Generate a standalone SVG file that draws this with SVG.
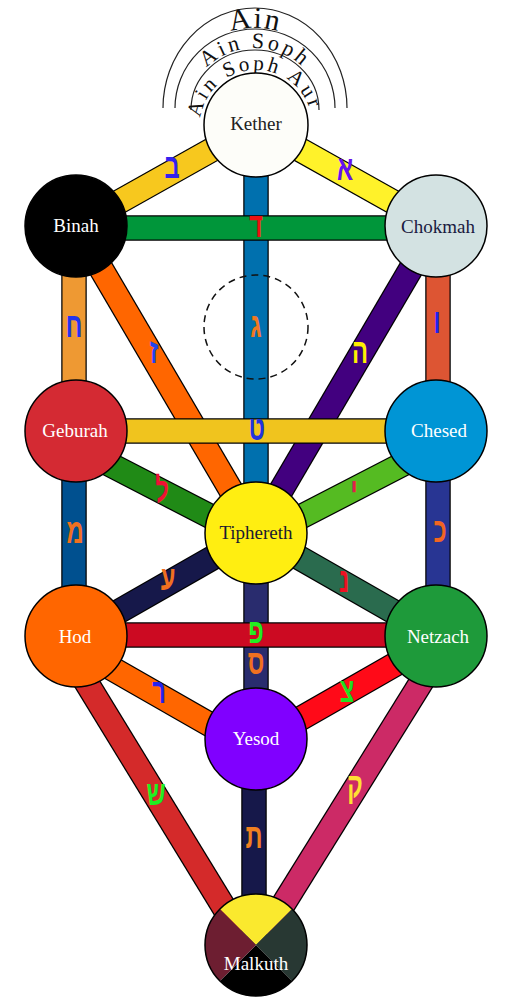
<svg xmlns="http://www.w3.org/2000/svg" width="513" height="1000" viewBox="0 0 513 1000">
<style>
.o{stroke:#000;stroke-width:25.5;fill:none}
.b{stroke-width:23;fill:none}
.n{stroke:#000;stroke-width:1.5}
.lbl{font-family:"Liberation Serif","DejaVu Serif",serif;font-size:19px;text-anchor:middle}
.heb{font-family:"Liberation Sans","DejaVu Sans",sans-serif;font-size:25px;font-weight:bold;text-anchor:middle}
.arc{fill:none;stroke:#222;stroke-width:1.2}
.ain{font-family:"Liberation Serif","DejaVu Serif",serif;fill:#111}
</style>
<defs>
<path id="pAin" d="M173,108 A82,80 0 0,1 337,108"/>
<path id="pSoph" d="M189,110 A66,62 0 0,1 321,110"/>
<path id="pAur" d="M200,125 A56,55 0 0,1 312,125"/>
</defs>
<g id="veils">
<path class="arc" d="M163,108 A92,100 0 0,1 347,108"/>
<path class="arc" d="M175,108 A80,79 0 0,1 335,108"/>
<path class="arc" d="M191,110 A64,60 0 0,1 319,110"/>
<text class="ain" font-size="30" letter-spacing="1.5"><textPath href="#pAin" startOffset="50%" text-anchor="middle">Ain</textPath></text>
<text class="ain" font-size="22" letter-spacing="3"><textPath href="#pSoph" startOffset="50%" text-anchor="middle">Ain Soph</textPath></text>
<text class="ain" font-size="21" letter-spacing="3"><textPath href="#pAur" startOffset="48%" text-anchor="middle">Ain Soph Aur</textPath></text>
</g>
<g id="connectors">
<line class="o" x1="256" y1="125" x2="256" y2="533"/><line class="b" stroke="#0070AE" x1="256" y1="125" x2="256" y2="533"/>
<line class="o" x1="256" y1="125" x2="76" y2="226"/><line class="b" stroke="#F7C81E" x1="256" y1="125" x2="76" y2="226"/>
<line class="o" x1="256" y1="125" x2="436" y2="226"/><line class="b" stroke="#FFF22A" x1="256" y1="125" x2="436" y2="226"/>
<line class="o" x1="76" y1="226" x2="256" y2="533"/><line class="b" stroke="#FF6600" x1="76" y1="226" x2="256" y2="533"/>
<line class="o" x1="436" y1="226" x2="256" y2="533"/><line class="b" stroke="#42007F" x1="436" y1="226" x2="256" y2="533"/>
<line class="o" x1="74" y1="226" x2="74" y2="431"/><line class="b" stroke="#EE9933" x1="74" y1="226" x2="74" y2="431"/>
<line class="o" x1="438" y1="226" x2="438" y2="431"/><line class="b" stroke="#DD5533" x1="438" y1="226" x2="438" y2="431"/>
<line class="o" x1="76" y1="228" x2="436" y2="228"/><line class="b" stroke="#00963A" x1="76" y1="228" x2="436" y2="228"/>
<line class="o" x1="76" y1="431" x2="436" y2="431"/><line class="b" stroke="#F0C41E" x1="76" y1="431" x2="436" y2="431"/>
<line class="o" x1="76" y1="447" x2="256" y2="540"/><line class="b" stroke="#208A16" x1="76" y1="447" x2="256" y2="540"/>
<line class="o" x1="436" y1="447" x2="256" y2="540"/><line class="b" stroke="#55BB22" x1="436" y1="447" x2="256" y2="540"/>
<line class="o" x1="74" y1="431" x2="74" y2="636"/><line class="b" stroke="#00508F" x1="74" y1="431" x2="74" y2="636"/>
<line class="o" x1="438" y1="431" x2="438" y2="636"/><line class="b" stroke="#283593" x1="438" y1="431" x2="438" y2="636"/>
<line class="o" x1="256" y1="533" x2="76" y2="636"/><line class="b" stroke="#16184A" x1="256" y1="533" x2="76" y2="636"/>
<line class="o" x1="256" y1="533" x2="436" y2="636"/><line class="b" stroke="#2A6B4E" x1="256" y1="533" x2="436" y2="636"/>
<line class="o" x1="256" y1="533" x2="256" y2="739"/><line class="b" stroke="#292C6E" x1="256" y1="533" x2="256" y2="739"/>
<line class="o" x1="76" y1="635" x2="436" y2="635"/><line class="b" stroke="#CC0A22" x1="76" y1="635" x2="436" y2="635"/>
<line class="o" x1="76" y1="648" x2="256" y2="751"/><line class="b" stroke="#FF6600" x1="76" y1="648" x2="256" y2="751"/>
<line class="o" x1="436" y1="641" x2="256" y2="744"/><line class="b" stroke="#FF0A18" x1="436" y1="641" x2="256" y2="744"/>
<line class="o" x1="58" y1="636" x2="247" y2="945"/><line class="b" stroke="#D42A2A" x1="58" y1="636" x2="247" y2="945"/>
<line class="o" x1="450" y1="636" x2="258" y2="945"/><line class="b" stroke="#CC2A66" x1="450" y1="636" x2="258" y2="945"/>
<line class="o" x1="254" y1="739" x2="254" y2="945"/><line class="b" stroke="#16184A" x1="254" y1="739" x2="254" y2="945"/>
</g>
<g id="letters" class="heb">
<text transform="translate(345,180) scale(.95,1.4)" fill="#6611EE">א</text>
<text transform="translate(172,178) scale(.95,1.4)" fill="#3322EE">ב</text>
<text transform="translate(256,337) scale(.95,1.4)" fill="#F07820">ג</text>
<text transform="translate(256,237) scale(.95,1.4)" fill="#EE1111">ד</text>
<text transform="translate(360,363) scale(.95,1.4)" fill="#FFEE00">ה</text>
<text transform="translate(437,333) scale(.95,1.4)" fill="#2222EE">ו</text>
<text transform="translate(154,363) scale(.95,1.4)" fill="#2244EE">ז</text>
<text transform="translate(74,337) scale(.95,1.4)" fill="#2233EE">ח</text>
<text transform="translate(257,440) scale(.95,1.4)" fill="#2233DD">ט</text>
<text transform="translate(354,502) scale(.95,1.4)" fill="#E0204A">י</text>
<text transform="translate(440,542) scale(.95,1.4)" fill="#F26522">כ</text>
<text transform="translate(162,502) scale(.95,1.4)" fill="#EE1133">ל</text>
<text transform="translate(75,543) scale(.95,1.4)" fill="#F07020">מ</text>
<text transform="translate(344,592) scale(.95,1.4)" fill="#EE1122">נ</text>
<text transform="translate(256,674) scale(.95,1.4)" fill="#F07020">ס</text>
<text transform="translate(168,590) scale(.95,1.4)" fill="#F07020">ע</text>
<text transform="translate(256,643) scale(.95,1.4)" fill="#22EE22">פ</text>
<text transform="translate(347,702) scale(.95,1.4)" fill="#22DD22">צ</text>
<text transform="translate(355,797) scale(.95,1.4)" fill="#FFE033">ק</text>
<text transform="translate(159,703) scale(.95,1.4)" fill="#2222EE">ר</text>
<text transform="translate(156,805) scale(.95,1.4)" fill="#22EE22">ש</text>
<text transform="translate(254,848) scale(.95,1.4)" fill="#F08020">ת</text>
</g>
<g id="daath"><circle cx="256" cy="327" r="52" fill="none" stroke="#111" stroke-width="1.5" stroke-dasharray="7,5"/></g>
<g id="kether"><circle class="n" cx="256" cy="125" r="52" fill="#FDFDF9"/><text class="lbl" x="256" y="130" fill="#222">Kether</text></g>
<g id="binah"><circle class="n" cx="76" cy="226" r="51" fill="#000"/><text class="lbl" x="76" y="232" fill="#fff">Binah</text></g>
<g id="chokmah"><circle class="n" cx="436" cy="226" r="51" fill="#D3E2E2"/><text class="lbl" x="438" y="233" fill="#1A1A40">Chokmah</text></g>
<g id="geburah"><circle class="n" cx="76" cy="431" r="51" fill="#D42A33"/><text class="lbl" x="75" y="437" fill="#fff">Geburah</text></g>
<g id="chesed"><circle class="n" cx="436" cy="431" r="51" fill="#0095D5"/><text class="lbl" x="439" y="437" fill="#fff">Chesed</text></g>
<g id="tiphereth"><circle class="n" cx="256" cy="533" r="51" fill="#FFEE11"/><text class="lbl" x="256" y="539" fill="#1A1A30">Tiphereth</text></g>
<g id="hod"><circle class="n" cx="76" cy="636" r="51" fill="#FF6600"/><text class="lbl" x="75" y="643" fill="#fff">Hod</text></g>
<g id="netzach"><circle class="n" cx="436" cy="636" r="51" fill="#1E9A3A"/><text class="lbl" x="438" y="643" fill="#fff">Netzach</text></g>
<g id="yesod"><circle class="n" cx="256" cy="739" r="51" fill="#8000FF"/><text class="lbl" x="256" y="745" fill="#fff">Yesod</text></g>
<g id="malkuth">
<path d="M256,945 L219.9,908.9 A51,51 0 0,1 292.1,908.9 Z" fill="#FAE92E"/>
<path d="M256,945 L292.1,908.9 A51,51 0 0,1 292.1,981.1 Z" fill="#283833"/>
<path d="M256,945 L292.1,981.1 A51,51 0 0,1 219.9,981.1 Z" fill="#000"/>
<path d="M256,945 L219.9,981.1 A51,51 0 0,1 219.9,908.9 Z" fill="#6D1E31"/>
<circle cx="256" cy="945" r="51" fill="none" stroke="#000" stroke-width="1.5"/>
<text class="lbl" x="256" y="970" fill="#fff">Malkuth</text>
</g>
</svg>
